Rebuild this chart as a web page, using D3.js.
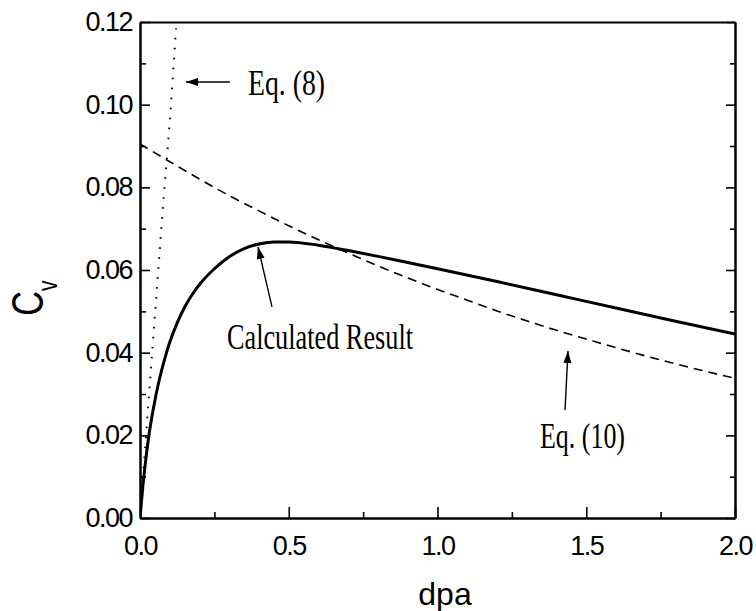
<!DOCTYPE html>
<html>
<head>
<meta charset="utf-8">
<script src="https://cdn.jsdelivr.net/npm/d3@7"></script>
<style>
  body { margin: 0; background: #fff; }
  .tick text { font-family: "Liberation Sans", Arial, sans-serif; font-size: 27px; letter-spacing: -1.5px; fill: #000; }
</style>
</head>
<body>
<div id="chart"></div>
<script>
// calculated result (solid)
var calcDpa = [0, 0.01, 0.02, 0.03, 0.045, 0.065, 0.085, 0.10, 0.125, 0.15, 0.175, 0.20, 0.25, 0.30, 0.35, 0.40, 0.45, 0.50, 0.60, 0.70, 0.80, 0.90, 1.00, 1.20, 1.40, 1.60, 1.80, 2.00];
var calcCv  = [0, 0.0080, 0.0145, 0.0200, 0.0265, 0.0335, 0.0390, 0.0425, 0.0472, 0.0510, 0.0540, 0.0565, 0.0603, 0.0632, 0.0652, 0.0663, 0.0668, 0.0668, 0.0660, 0.0647, 0.0633, 0.0618, 0.0603, 0.0572, 0.0540, 0.0508, 0.0476, 0.0445];

// Eq. (10) (dashed)
var eq10Dpa = [0, 0.1, 0.2, 0.3, 0.4, 0.5, 0.6, 0.7, 0.8, 0.9, 1.0, 1.1, 1.2, 1.3, 1.4, 1.5, 1.6, 1.7, 1.8, 1.9, 2.0];
var eq10Cv  = [0.0905, 0.0862, 0.0820, 0.0780, 0.0743, 0.0707, 0.0673, 0.0641, 0.0610, 0.0581, 0.0553, 0.0527, 0.0501, 0.0477, 0.0454, 0.0433, 0.0412, 0.0392, 0.0373, 0.0355, 0.0338];

// Eq. (8) (dotted)
var eq8Dpa = [0, 0.02, 0.04, 0.06, 0.08, 0.092, 0.104, 0.121];
var eq8Cv  = [0, 0.0196, 0.0392, 0.0585, 0.0780, 0.0885, 0.1000, 0.1185];

var xTicks = [0, 0.5, 1.0, 1.5, 2.0];
var xMinor = [0.25, 0.75, 1.25, 1.75];
var yTicks = [0, 0.02, 0.04, 0.06, 0.08, 0.10, 0.12];
var yMinor = [0.01, 0.03, 0.05, 0.07, 0.09, 0.11];

// annotations: arrow tail, arrow tip, text position (data units)
var notes = [
  {text: "Eq. (8)",           tail: [0.3025, 0.1055], tip: [0.1546, 0.1055], at: [0.363, 0.1023],  len: 77},
  {text: "Calculated Result", tail: [0.4437, 0.0511], tip: [0.3966, 0.0656], at: [0.2924, 0.0409], len: 186},
  {text: "Eq. (10)",          tail: [1.4286, 0.0261], tip: [1.4387, 0.0404], at: [1.3445, 0.0169], len: 85}
];

var width = 756, height = 611;
var margin = {left: 140, right: 21, top: 22, bottom: 93};
var w = width - margin.left - margin.right;
var h = height - margin.top - margin.bottom;

var svg = d3.select("#chart").append("svg")
  .attr("width", width).attr("height", height);

var defs = svg.append("defs");
defs.append("clipPath").attr("id", "plotclip")
  .append("rect").attr("width", w).attr("height", h);
defs.append("marker")
  .attr("id", "head")
  .attr("markerUnits", "userSpaceOnUse")
  .attr("viewBox", "-13 -5 14 10")
  .attr("markerWidth", 14).attr("markerHeight", 10)
  .attr("refX", 0).attr("refY", 0)
  .attr("orient", "auto")
  .append("path").attr("d", "M0,0L-12,-4L-12,4Z").attr("fill", "#000");

var g = svg.append("g").attr("transform", "translate(" + margin.left + "," + margin.top + ")");

var x = d3.scaleLinear().domain([0, 2]).range([0, w]);
var y = d3.scaleLinear().domain([0, 0.12]).range([h, 0]);

// axes
g.append("g").attr("transform", "translate(0," + h + ")")
  .call(d3.axisBottom(x).tickValues(xTicks).tickFormat(d3.format(".1f")).tickSizeInner(-11).tickSizeOuter(0).tickPadding(18));
g.append("g").attr("transform", "translate(0," + h + ")")
  .call(d3.axisBottom(x).tickValues(xMinor).tickFormat("").tickSizeInner(-6).tickSizeOuter(0));
g.append("g")
  .call(d3.axisLeft(y).tickValues(yTicks).tickFormat(d3.format(".2f")).tickSizeInner(-10).tickSizeOuter(0).tickPadding(8));
g.append("g")
  .call(d3.axisLeft(y).tickValues(yMinor).tickFormat("").tickSizeInner(-6).tickSizeOuter(0));
g.append("g").attr("transform", "translate(" + w + ",0)")
  .call(d3.axisRight(y).tickValues(yTicks).tickFormat("").tickSizeInner(-9).tickSizeOuter(0));
g.append("g").attr("transform", "translate(" + w + ",0)")
  .call(d3.axisRight(y).tickValues(yMinor).tickFormat("").tickSizeInner(-5).tickSizeOuter(0));
g.append("g")
  .call(d3.axisTop(x).tickValues([]).tickSizeOuter(0));

g.selectAll(".domain").attr("stroke", "#000").attr("stroke-width", 2);
g.selectAll(".tick line").attr("stroke", "#000").attr("stroke-width", 1.6);

// curves
var line = d3.line()
  .x(function(d){ return x(d[0]); })
  .y(function(d){ return y(d[1]); })
  .curve(d3.curveMonotoneX);

var plot = g.append("g").attr("clip-path", "url(#plotclip)");

plot.append("path")
  .datum(d3.zip(eq8Dpa, eq8Cv))
  .attr("d", line)
  .attr("fill", "none").attr("stroke", "#000")
  .attr("stroke-width", 2).attr("stroke-dasharray", "1.6,8.4");

plot.append("path")
  .datum(d3.zip(eq10Dpa, eq10Cv))
  .attr("d", line)
  .attr("fill", "none").attr("stroke", "#000")
  .attr("stroke-width", 1.6).attr("stroke-dasharray", "9,6");

plot.append("path")
  .datum(d3.zip(calcDpa, calcCv))
  .attr("d", line)
  .attr("fill", "none").attr("stroke", "#000")
  .attr("stroke-width", 3).attr("stroke-linejoin", "round");

// annotations
notes.forEach(function(n){
  g.append("line")
    .attr("x1", x(n.tail[0])).attr("y1", y(n.tail[1]))
    .attr("x2", x(n.tip[0])).attr("y2", y(n.tip[1]))
    .attr("stroke", "#000").attr("stroke-width", 1.4)
    .attr("marker-end", "url(#head)");
  g.append("text")
    .attr("x", x(n.at[0])).attr("y", y(n.at[1]))
    .attr("font-family", "'Liberation Serif', 'Times New Roman', serif")
    .attr("font-size", 36)
    .attr("textLength", n.len).attr("lengthAdjust", "spacingAndGlyphs")
    .text(n.text);
});

// axis titles
svg.append("text")
  .attr("x", 445).attr("y", 605)
  .attr("text-anchor", "middle")
  .attr("font-family", "'Liberation Sans', Arial, sans-serif")
  .attr("font-size", 32)
  .text("dpa");

var ylab = svg.append("text")
  .attr("transform", "translate(43,298) rotate(-90) scale(0.78,1)")
  .attr("text-anchor", "middle")
  .attr("font-family", "'Liberation Sans', Arial, sans-serif")
  .attr("font-size", 44);
ylab.append("tspan").text("C");
ylab.append("tspan").attr("dy", 14).attr("font-size", 27).text("v");
</script>
</body>
</html>
